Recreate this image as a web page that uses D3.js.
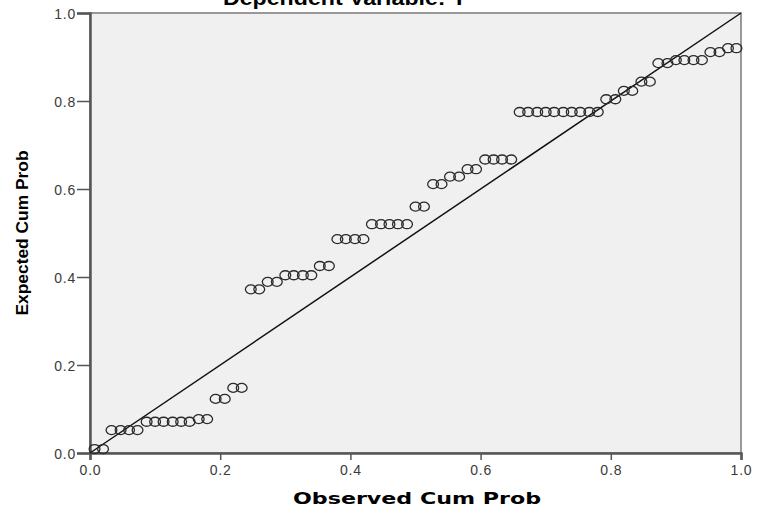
<!DOCTYPE html>
<html>
<head>
<meta charset="utf-8">
<script src="https://cdn.jsdelivr.net/npm/d3@7"></script>
<style>
  body { margin: 0; background: #fff; }
  svg { display: block; }
</style>
</head>
<body>
<svg id="chart"></svg>
<script>
// observed cumulative probabilities (x)
const observed = [
  0.007, 0.020, 0.033, 0.047, 0.060, 0.073, 0.087, 0.100, 0.113, 0.127,
  0.140, 0.153, 0.167, 0.180, 0.193, 0.207, 0.220, 0.233, 0.247, 0.260,
  0.273, 0.287, 0.300, 0.313, 0.327, 0.340, 0.353, 0.367, 0.380, 0.393,
  0.407, 0.420, 0.433, 0.447, 0.460, 0.473, 0.487, 0.500, 0.513, 0.527,
  0.540, 0.553, 0.567, 0.580, 0.593, 0.607, 0.620, 0.633, 0.647, 0.660,
  0.673, 0.687, 0.700, 0.713, 0.727, 0.740, 0.753, 0.767, 0.780, 0.793,
  0.807, 0.820, 0.833, 0.847, 0.860, 0.873, 0.887, 0.900, 0.913, 0.927,
  0.940, 0.953, 0.967, 0.980, 0.993
];
// expected cumulative probabilities (y)
const expected = [
  0.009, 0.009, 0.052, 0.052, 0.052, 0.052, 0.071, 0.071, 0.071, 0.071,
  0.071, 0.071, 0.077, 0.077, 0.123, 0.123, 0.148, 0.148, 0.372, 0.372,
  0.389, 0.389, 0.404, 0.404, 0.404, 0.404, 0.425, 0.425, 0.486, 0.486,
  0.486, 0.486, 0.520, 0.520, 0.520, 0.520, 0.520, 0.560, 0.560, 0.611,
  0.611, 0.628, 0.628, 0.645, 0.645, 0.667, 0.667, 0.667, 0.667, 0.775,
  0.775, 0.775, 0.775, 0.775, 0.775, 0.775, 0.775, 0.775, 0.775, 0.804,
  0.804, 0.823, 0.823, 0.844, 0.844, 0.886, 0.886, 0.893, 0.893, 0.893,
  0.893, 0.911, 0.911, 0.920, 0.920
];
const tickValues = [0, 0.2, 0.4, 0.6, 0.8, 1.0];
const titleText = 'Dependent Variable: Y';
const xTitle = 'Observed Cum Prob';
const yTitle = 'Expected Cum Prob';

const width = 760, height = 513;
const m = { left: 90, right: 741, top: 13, bottom: 453 };

const svg = d3.select('#chart').attr('width', width).attr('height', height);

const x = d3.scaleLinear().domain([0, 1]).range([m.left, m.right]);
const y = d3.scaleLinear().domain([0, 1]).range([m.bottom, m.top]);

// plot background + frame
svg.append('rect')
  .attr('x', m.left).attr('y', m.top)
  .attr('width', m.right - m.left).attr('height', m.bottom - m.top)
  .attr('fill', '#f0f0f0')
  .attr('stroke', '#7a7a7a')
  .attr('stroke-width', 1.5);

// title (cut off at the top, as in the source image)
svg.append('text')
  .attr('x', 223).attr('y', 5)
  .attr('font-family', 'Liberation Sans, Arial, sans-serif')
  .attr('font-size', 20)
  .attr('font-weight', 'bold')
  .attr('textLength', 244)
  .attr('lengthAdjust', 'spacingAndGlyphs')
  .text(titleText);

const fmt = d3.format('.1f');

const xAxis = svg.append('g')
  .attr('transform', `translate(0,${m.bottom})`)
  .call(d3.axisBottom(x).tickValues(tickValues).tickFormat(fmt).tickSizeOuter(0).tickSize(7).tickPadding(5));

const yAxis = svg.append('g')
  .attr('transform', `translate(${m.left},0)`)
  .call(d3.axisLeft(y).tickValues(tickValues).tickFormat(fmt).tickSizeOuter(0).tickSize(13).tickPadding(1));

[xAxis, yAxis].forEach(g => {
  g.select('.domain').attr('stroke', '#555').attr('stroke-width', 2.5);
  g.selectAll('.tick line').attr('stroke', '#555').attr('stroke-width', 1.5);
  g.selectAll('.tick text')
    .attr('fill', '#3a3a3a')
    .attr('font-family', 'Liberation Sans, Arial, sans-serif')
    .attr('font-size', 14)
    .attr('letter-spacing', 0.8);
});
yAxis.selectAll('.tick text').attr('dy', '0.36em');

// reference diagonal
svg.append('line')
  .attr('x1', x(0)).attr('y1', y(0))
  .attr('x2', x(1)).attr('y2', y(1))
  .attr('stroke', '#111')
  .attr('stroke-width', 1.5);

// points
svg.append('g')
  .selectAll('ellipse')
  .data(observed.map((d, i) => [d, expected[i]]))
  .enter()
  .append('ellipse')
  .attr('cx', d => x(d[0]))
  .attr('cy', d => y(d[1]))
  .attr('rx', 5.4)
  .attr('ry', 4.5)
  .attr('fill', 'none')
  .attr('stroke', '#2a2a2a')
  .attr('stroke-width', 1.3);

// axis titles
svg.append('text')
  .attr('x', 417).attr('y', 504)
  .attr('text-anchor', 'middle')
  .attr('font-family', 'DejaVu Sans, Verdana, sans-serif')
  .attr('font-size', 16)
  .attr('font-weight', 'bold')
  .attr('textLength', 248)
  .attr('lengthAdjust', 'spacingAndGlyphs')
  .text(xTitle);

svg.append('text')
  .attr('transform', 'translate(28,233) rotate(-90)')
  .attr('text-anchor', 'middle')
  .attr('font-family', 'Liberation Sans Narrow, Arial Narrow, Liberation Sans, sans-serif')
  .attr('font-size', 17)
  .attr('font-weight', 'bold')
  .attr('textLength', 165)
  .attr('lengthAdjust', 'spacingAndGlyphs')
  .text(yTitle);
</script>
</body>
</html>
